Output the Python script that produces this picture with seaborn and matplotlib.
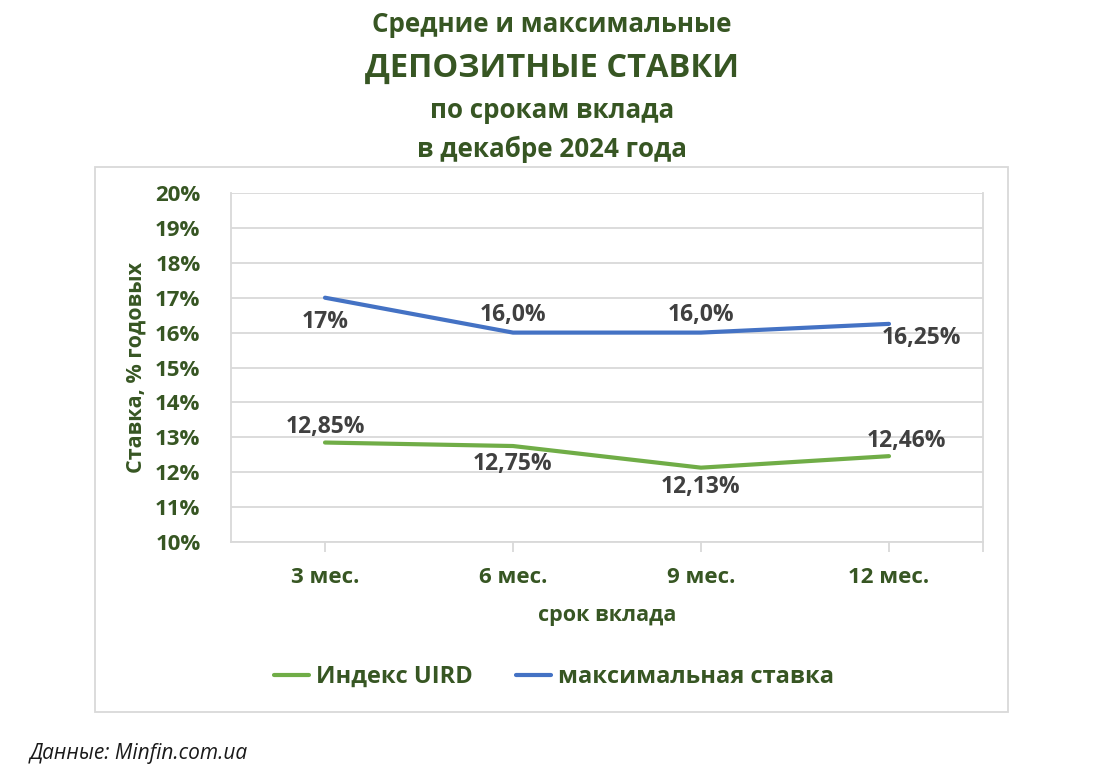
import matplotlib
matplotlib.use("Agg")
import matplotlib.pyplot as plt
import seaborn as sns
import pandas as pd
from matplotlib.patches import Rectangle
from matplotlib.ticker import FuncFormatter
from matplotlib.lines import Line2D

categories = ["3 мес.", "6 мес.", "9 мес.", "12 мес."]
uird = [12.85, 12.75, 12.13, 12.46]
max_rate = [17.0, 16.0, 16.0, 16.25]
uird_labels = ["12,85%", "12,75%", "12,13%", "12,46%"]
max_labels = ["17%", "16,0%", "16,0%", "16,25%"]
series_names = ["Индекс UIRD", "максимальная ставка"]
yticks = list(range(10, 21))

sns.set_theme(style="white")
plt.rcParams['font.family'] = ['Open Sans', 'DejaVu Sans']

GREEN_TXT = "#375623"
LBL = "#404040"
GRID = "#D9D9D9"
C_GREEN = "#70AD47"
C_BLUE = "#4472C4"

df = pd.DataFrame({
    "cat": categories * 2,
    "x": list(range(len(categories))) * 2,
    "val": uird + max_rate,
    "series": [series_names[0]] * 4 + [series_names[1]] * 4,
})

fig = plt.figure(figsize=(11.05, 7.8), dpi=100)
fig.patches.append(Rectangle((95 / 1105, 1 - 712 / 780), (1008 - 95) / 1105, (712 - 167) / 780,
                             transform=fig.transFigure, fill=False, edgecolor=GRID, linewidth=1.3, zorder=0))
ax = fig.add_axes([231 / 1105, 1 - 542 / 780, (983 - 231) / 1105, (542 - 193) / 780])

sns.lineplot(data=df, x="x", y="val", hue="series", palette=[C_GREEN, C_BLUE],
             linewidth=3.0, ax=ax, legend=False, solid_capstyle="round")

ax.set_xlim(-0.5, 3.5)
ax.set_ylim(10, 20)
ax.set_yticks(yticks)
ax.yaxis.set_major_formatter(FuncFormatter(lambda v, p: f"{int(v)}%"))
ax.set_xticks(range(len(categories)))
ax.set_xticklabels(categories)
ax.set_xticks([3.5], minor=True)
ax.grid(axis="y", color=GRID, linewidth=1.3)
ax.set_axisbelow(True)
for s in ["left", "right", "bottom"]:
    ax.spines[s].set_visible(True)
    ax.spines[s].set_color(GRID)
    ax.spines[s].set_linewidth(1.3)
ax.spines["top"].set_visible(False)
ax.tick_params(axis="x", which="both", bottom=True, length=7, width=1.3, color=GRID, pad=11)
ax.tick_params(axis="y", left=False, pad=16)
for lab in ax.get_xticklabels() + ax.get_yticklabels():
    lab.set_fontsize(16)
    lab.set_fontweight("bold")
    lab.set_color(GREEN_TXT)

ax.set_xlabel("срок вклада", fontsize=15.5, fontweight="bold", color=GREEN_TXT, labelpad=12)
ax.set_ylabel("Ставка, % годовых", fontsize=15.5, fontweight="bold", color=GREEN_TXT, labelpad=6)

# data labels
max_offsets = [(0, -24), (0, 18), (0, 18), (32, -14)]
uird_offsets = [(0, 16), (0, -18), (0, -19), (17, 15)]
for i in range(len(categories)):
    ax.annotate(max_labels[i], (i, max_rate[i]), xytext=max_offsets[i], textcoords="offset pixels",
                ha="center", va="center", fontsize=16.5, fontweight="bold", color=LBL)
    ax.annotate(uird_labels[i], (i, uird[i]), xytext=uird_offsets[i], textcoords="offset pixels",
                ha="center", va="center", fontsize=16.5, fontweight="bold", color=LBL)

# legend
handles = [Line2D([0], [0], color=C_GREEN, lw=3.0, solid_capstyle="round"),
           Line2D([0], [0], color=C_BLUE, lw=3.0, solid_capstyle="round")]
leg = fig.legend(handles, series_names, loc="center", bbox_to_anchor=(554 / 1105, 1 - 677 / 780),
                 ncol=2, frameon=False, handlelength=1.5, handletextpad=0.3, columnspacing=1.8,
                 prop={"size": 17, "weight": "bold"})
for t in leg.get_texts():
    t.set_color(GREEN_TXT)

# titles
cx = 552 / 1105
fig.text(cx, 1 - 32 / 780, "Средние и максимальные", ha="center", va="baseline",
         fontsize=18.7, fontweight="bold", color=GREEN_TXT)
fig.text(cx, 1 - 77 / 780, "ДЕПОЗИТНЫЕ СТАВКИ", ha="center", va="baseline",
         fontsize=23.5, fontweight="bold", color=GREEN_TXT)
fig.text(cx, 1 - 118 / 780, "по срокам вклада", ha="center", va="baseline",
         fontsize=18.7, fontweight="bold", color=GREEN_TXT)
fig.text(cx, 1 - 157 / 780, "в декабре 2024 года", ha="center", va="baseline",
         fontsize=18.7, fontweight="bold", color=GREEN_TXT)

fig.text(30 / 1105, 1 - 753 / 780, "Данные: Minfin.com.ua", ha="left", va="center",
         fontsize=15, style="italic", color="#1a1a1a")

fig.savefig("out.png", dpi=100, facecolor="white")
